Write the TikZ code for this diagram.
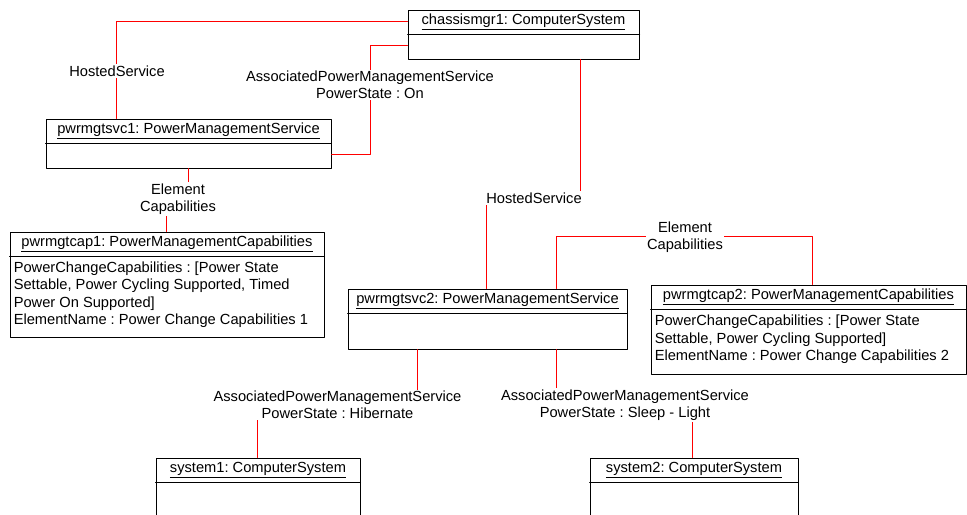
\documentclass[tikz,border=0pt]{standalone}
\usepackage{fontspec}
\setmainfont{Liberation Sans}
\usepackage{tikz}
\usetikzlibrary{fit}
\frenchspacing

\begin{document}
\begin{tikzpicture}[x=0.75pt, y=-0.75pt, line cap=round, line join=round,
    font=\fontsize{11}{13}\selectfont,
    objbox/.style={draw, line width=0.75pt, fill=white, inner sep=0pt},
    objtitle/.style={anchor=north, inner sep=0pt, minimum height=18.3pt},
    divider/.style={line width=0.75pt},
    attrs/.style={anchor=north west, align=left, inner xsep=3pt, inner ysep=4pt},
    link/.style={red, line width=0.75pt},
    linklabel/.style={fill=white, inner sep=1pt, align=center}]
  \useasboundingbox (0,0) rectangle (967,514);
  \clip (0,0) rectangle (967,514);
  %--- chassismgr1
    \node[objbox, fit={(408,10) (639,59)}] (chassis) {};
    \node[objtitle] (chassistitle) at (chassis.north) {\underline{chassismgr1: ComputerSystem}};
    \draw[divider] (chassistitle.south -| chassis.west) -- (chassistitle.south -| chassis.east);
  %--- pwrmgtsvc1
    \node[objbox, fit={(46,119) (331,168)}] (svc1) {};
    \node[objtitle] (svc1title) at (svc1.north) {\underline{pwrmgtsvc1: PowerManagementService}};
    \draw[divider] (svc1title.south -| svc1.west) -- (svc1title.south -| svc1.east);
  %--- pwrmgtcap1
    \node[objbox, fit={(10,232) (324,337)}] (cap1) {};
    \node[objtitle] (cap1title) at (cap1.north) {\underline{pwrmgtcap1: PowerManagementCapabilities}};
    \draw[divider] (cap1title.south -| cap1.west) -- (cap1title.south -| cap1.east);
    \node[attrs] (cap1attrs) at (cap1title.south -| cap1.west) {PowerChangeCapabilities : [Power State\\ Settable, Power Cycling Supported, Timed\\ Power On Supported]\\ ElementName : Power Change Capabilities 1};
  %--- pwrmgtsvc2
    \node[objbox, fit={(348,289) (627,349)}] (svc2) {};
    \node[objtitle] (svc2title) at (svc2.north) {\underline{pwrmgtsvc2: PowerManagementService}};
    \draw[divider] (svc2title.south -| svc2.west) -- (svc2title.south -| svc2.east);
  %--- pwrmgtcap2
    \node[objbox, fit={(651,285) (966,374)}] (cap2) {};
    \node[objtitle] (cap2title) at (cap2.north) {\underline{pwrmgtcap2: PowerManagementCapabilities}};
    \draw[divider] (cap2title.south -| cap2.west) -- (cap2title.south -| cap2.east);
    \node[attrs] (cap2attrs) at (cap2title.south -| cap2.west) {PowerChangeCapabilities : [Power State\\ Settable, Power Cycling Supported]\\ ElementName : Power Change Capabilities 2};
  %--- system1
    \node[objbox, fit={(156,458) (360,530)}] (sys1) {};
    \node[objtitle] (sys1title) at (sys1.north) {\underline{system1: ComputerSystem}};
    \draw[divider] (sys1title.south -| sys1.west) -- (sys1title.south -| sys1.east);
  %--- system2
    \node[objbox, fit={(590,458) (798,530)}] (sys2) {};
    \node[objtitle] (sys2title) at (sys2.north) {\underline{system2: ComputerSystem}};
    \draw[divider] (sys2title.south -| sys2.west) -- (sys2title.south -| sys2.east);
  % Associations
    \draw[link] ([shift={(0,12)}]chassis.north west) -| ([shift={(71,0)}]svc1.north west);
    \draw[link] ([shift={(0,36)}]chassis.north west) -| ([shift={(39,0)}]svc1.north east) |- ([shift={(0,36)}]svc1.north east);
    \draw[link] ([shift={(143,0)}]svc1.south west) -- ++(0,31) -| ([shift={(157,0)}]cap1.north west);
    \draw[link] ([shift={(173,0)}]chassis.south west) -- ++(0,139) -| ([shift={(139,0)}]svc2.north west);
    \draw[link] ([shift={(209,0)}]svc2.north west) -- ++(0,-52) -| ([shift={(162,0)}]cap2.north west);
    \draw[link] ([shift={(70,0)}]svc2.south west) -- ++(0,56) -| ([shift={(102,0)}]sys1.north west);
    \draw[link] ([shift={(209,0)}]svc2.south west) -- ++(0,56) -| ([shift={(103,0)}]sys2.north west);
  % Association labels
    \node[linklabel] (hs1) at (117,71) {HostedService};
    \node[linklabel] (apmson) at (370,85) {AssociatedPowerManagementService\\ PowerState : On};
    \node[linklabel] (ec1) at (178,199) {Element\\ Capabilities};
    \node[linklabel] (hs2) at (534,198) {HostedService};
    \node[linklabel] (ec2) at (685,237) {Element\\ Capabilities};
    \node[linklabel] (apmshib) at (337.5,405) {AssociatedPowerManagementService\\ PowerState : Hibernate};
    \node[linklabel] (apmssleep) at (625,405) {AssociatedPowerManagementService\\ PowerState : Sleep - Light};
\end{tikzpicture}
\end{document}
